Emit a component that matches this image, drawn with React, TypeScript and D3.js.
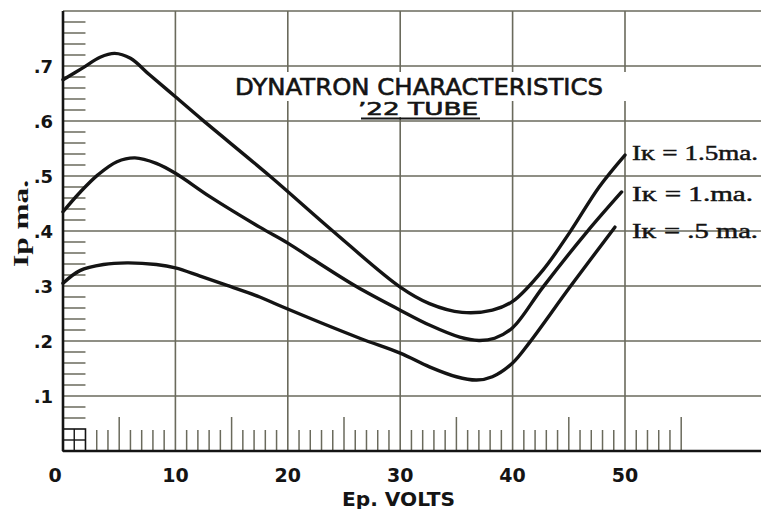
import React from "react";
import * as d3 from "d3";

const xTicks = [0, 10, 20, 30, 40, 50];
const yTicks = [0.1, 0.2, 0.3, 0.4, 0.5, 0.6, 0.7];
const yTickLabels = [".1", ".2", ".3", ".4", ".5", ".6", ".7"];

const v15 = [0, 1.8, 3.3, 4.6, 6, 7.7, 10, 12.4, 18.4, 24, 30, 32.6, 35.5, 38.2, 40, 42.7, 45.1, 47.7, 50];
const ip15 = [0.675, 0.697, 0.716, 0.723, 0.714, 0.684, 0.644, 0.602, 0.5, 0.4, 0.298, 0.268, 0.252, 0.256, 0.272, 0.329, 0.398, 0.48, 0.538];

const v10 = [0, 1.5, 3.1, 4.8, 6.4, 8.3, 10, 13.1, 17.5, 20, 22.2, 26.1, 30, 32.6, 35.3, 37, 38.4, 40, 42.7, 46.6, 49.7];
const ip10 = [0.435, 0.47, 0.502, 0.526, 0.533, 0.523, 0.505, 0.462, 0.407, 0.378, 0.349, 0.299, 0.256, 0.229, 0.207, 0.201, 0.205, 0.224, 0.298, 0.398, 0.471];

const v05 = [0, 1.5, 3.6, 5.7, 8.3, 10, 12.2, 14.6, 17.5, 19.3, 26.4, 30, 32.6, 35, 36.8, 38.2, 40, 41.5, 45.1, 49.1];
const ip05 = [0.305, 0.328, 0.339, 0.342, 0.339, 0.333, 0.318, 0.301, 0.28, 0.264, 0.205, 0.178, 0.153, 0.135, 0.129, 0.135, 0.16, 0.197, 0.298, 0.407];

const seriesLabels = ["I\u1d0b = 1.5ma.", "I\u1d0b = 1.ma.", "I\u1d0b = .5 ma."];
const titleLine1 = "DYNATRON CHARACTERISTICS";
const titleLine2 = "\u201922 TUBE";
const xTitle = "Ep. VOLTS";
const yTitle = "Ip ma.";

export default function App() {
  const W = 761, H = 509;
  const x = d3.scaleLinear().domain([0, 50]).range([63, 625]);
  const y = d3.scaleLinear().domain([0, 0.8]).range([451, 11]);
  const line = d3
    .line<[number, number]>()
    .x((d) => x(d[0]))
    .y((d) => y(d[1]))
    .curve(d3.curveCatmullRom.alpha(0.5));

  const series = [
    { v: v15, ip: ip15 },
    { v: v10, ip: ip10 },
    { v: v05, ip: ip05 },
  ];

  const gridColor = "#6a6a5c";
  const ink = "#141414";

  const minorY = d3.range(3, 40).map((i) => i * 0.02).filter((d) => Math.abs(d * 10 - Math.round(d * 10)) > 1e-6);
  const minorX = d3.range(3, 56).filter((d) => d % 10 !== 0 || d > 50);

  return (
    <svg width={W} height={H} style={{ position: "absolute", left: 0, top: 0, background: "#fff" }}>
      <rect x={0} y={0} width={W} height={H} fill="#fff" />
      {[...yTicks, 0.8].map((t) => (
        <line key={"h" + t} x1={x(0)} x2={W} y1={y(t)} y2={y(t)} stroke={gridColor} strokeWidth={1.6} />
      ))}
      {xTicks.slice(1).map((t) => (
        <line key={"v" + t} x1={x(t)} x2={x(t)} y1={y(0.8)} y2={y(0)} stroke={gridColor} strokeWidth={1.6} />
      ))}
      <rect x={230} y={72} width={400} height={29} fill="#fff" />
      <rect x={355} y={100} width={130} height={17} fill="#fff" />
      {minorY.map((t) => (
        <line key={"my" + t} x1={x(0)} x2={x(2)} y1={y(t)} y2={y(t)} stroke={gridColor} strokeWidth={1.5} />
      ))}
      {minorX.map((t) => (
        <line
          key={"mx" + t}
          x1={x(t)}
          x2={x(t)}
          y1={y(0)}
          y2={y(0) - (t % 5 === 0 ? 34 : 21)}
          stroke={gridColor}
          strokeWidth={1.5}
        />
      ))}
      <rect x={x(0)} y={y(0.04)} width={x(2) - x(0)} height={y(0) - y(0.04)} fill="none" stroke={ink} strokeWidth={1.6} />
      <line x1={x(1)} x2={x(1)} y1={y(0.04)} y2={y(0)} stroke={ink} strokeWidth={1.4} />
      <line x1={x(0)} x2={x(2)} y1={y(0.02)} y2={y(0.02)} stroke={ink} strokeWidth={1.4} />
      <line x1={x(0)} x2={x(0)} y1={y(0.8)} y2={y(0)} stroke={ink} strokeWidth={2.6} />
      <line x1={x(0)} x2={W} y1={y(0)} y2={y(0)} stroke={ink} strokeWidth={2.6} />
      {series.map((s, i) => (
        <path
          key={"s" + i}
          d={line(s.v.map((v, j) => [v, s.ip[j]] as [number, number])) || ""}
          fill="none"
          stroke={ink}
          strokeWidth={3.4}
          strokeLinecap="round"
        />
      ))}
      {yTicks.map((t, i) => (
        <text
          key={"yl" + t}
          x={53}
          y={y(t) + 7}
          textAnchor="end"
          fontFamily="DejaVu Sans"
          fontWeight="bold"
          fontSize={18}
          fill={ink}
        >
          {yTickLabels[i]}
        </text>
      ))}
      {xTicks.map((t) => (
        <text
          key={"xl" + t}
          x={x(t) + (t === 0 ? -8 : 0)}
          y={482}
          textAnchor="middle"
          fontFamily="DejaVu Sans"
          fontWeight="bold"
          fontSize={19}
          fill={ink}
        >
          {t}
        </text>
      ))}
      <text x={342} y={506} fontFamily="DejaVu Sans" fontWeight="bold" fontSize={19} fill={ink} textLength={113} lengthAdjust="spacingAndGlyphs">
        {xTitle}
      </text>
      <text
        transform="translate(28,267) rotate(-90)"
        fontFamily="Liberation Serif"
        fontWeight="bold"
        fontSize={21}
        fill={ink}
        textLength={87}
        lengthAdjust="spacingAndGlyphs"
      >
        {yTitle}
      </text>
      <text x={235} y={95} fontFamily="DejaVu Sans" fontSize={23} fill={ink} stroke={ink} strokeWidth={0.6} textLength={368} lengthAdjust="spacingAndGlyphs">
        {titleLine1}
      </text>
      <text x={358} y={115} fontFamily="DejaVu Sans" fontSize={17} fill={ink} stroke={ink} strokeWidth={0.6} textLength={120} lengthAdjust="spacingAndGlyphs">
        {titleLine2}
      </text>
      <line x1={361} x2={480} y1={118.5} y2={118.5} stroke={ink} strokeWidth={2} />
      {seriesLabels.map((s, i) => (
        <text
          key={"sl" + i}
          x={632}
          y={[160, 201, 238][i]}
          fontFamily="Liberation Serif"
          fontSize={22}
          fill={ink}
          stroke={ink}
          strokeWidth={0.5}
          textLength={[126, 121, 126][i]}
          lengthAdjust="spacingAndGlyphs"
        >
          {s}
        </text>
      ))}
    </svg>
  );
}
